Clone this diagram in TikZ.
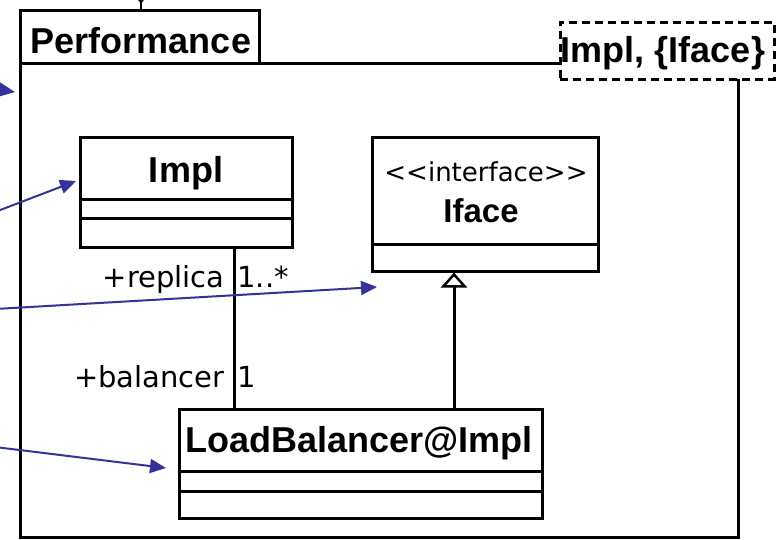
\documentclass[tikz,border=0pt]{standalone}
\usepackage{fontspec}
\setmainfont{DejaVu Sans}[Ligatures=NoCommon]
\newfontfamily\classfont{Liberation Sans}
\usetikzlibrary{arrows.meta,calc}
\definecolor{navy}{RGB}{51,51,153}

\begin{document}
\begin{tikzpicture}[x=1pt,y=-1pt,line width=3pt,
  umlbox/.style={draw,fill=white,inner sep=0pt},
  title/.style={font=\classfont\bfseries\fontsize{36}{40}\selectfont,inner sep=0pt,anchor=base},
  stereo/.style={font=\fontsize{26}{30}\selectfont,inner sep=0pt,anchor=base},
  role/.style={font=\fontsize{29}{32}\selectfont,inner sep=0pt},
  pointer/.style={draw=navy,line width=2pt,-{Triangle[length=16pt,width=14pt,fill=navy]}},
  realize/.style={-{Triangle[length=15pt,width=26pt,fill=white,line width=2.5pt]}}]
\useasboundingbox (0,0) rectangle (780,539);
\clip (0,0) rectangle (780,539);

% package frame with its name tab
\node[umlbox,minimum width=718pt,minimum height=474pt] (pkg) at (379,300) {};
\node[umlbox,minimum width=239pt,minimum height=53pt] (tab) at (139.5,36.5) {};
\node[title] (pkgname) at (141,53) {Performance};

% template parameter box
\node[umlbox,dash pattern=on 8pt off 5pt,minimum width=214pt,minimum height=57pt] (tpl) at (667,50.5) {};
\node[title] (tplname) at (663,62) {Impl, \{Iface\}};

% incoming dependency stub at the top
\coordinate (stub) at (141,0);
\fill (136,-3) -- (146,-3) -- (141,4) -- cycle;
\draw[line width=2pt] (stub) -- (tab.north -| stub);

% class Impl
\node[umlbox,minimum width=212pt,minimum height=110pt] (impl) at (186,192) {};
\draw ($(impl.north west)+(0,64)$) -- ($(impl.north east)+(0,64)$);
\draw ($(impl.north west)+(0,83)$) -- ($(impl.north east)+(0,83)$);
\node[title] (implname) at (186,182) {Impl};

% interface Iface
\node[umlbox,minimum width=226pt,minimum height=134pt] (iface) at (485,204) {};
\draw ($(iface.north west)+(0,109)$) -- ($(iface.north east)+(0,109)$);
\node[stereo] (ifacest) at (486,181) {<{}<interface>{}>};
\node[title,font=\classfont\bfseries\fontsize{33}{36}\selectfont] (ifacename) at (481,222) {Iface};

% class LoadBalancer@Impl
\node[umlbox,minimum width=363pt,minimum height=109pt] (lb) at (360.5,463.5) {};
\draw ($(lb.north west)+(0,64)$) -- ($(lb.north east)+(0,64)$);
\draw ($(lb.north west)+(0,84)$) -- ($(lb.north east)+(0,84)$);
\node[title] (lbname) at (359,452) {LoadBalancer@Impl};

% association between Impl and LoadBalancer@Impl
\coordinate (assoc) at (234,0);
\draw (impl.south -| assoc) -- (lb.north -| assoc);
\node[role,anchor=base east] (rrole) at (226,287) {+replica};
\node[role,anchor=base west] (rmult) at (236,287) {1..*};
\node[role,anchor=base east] (brole) at (226,387) {+balancer};
\node[role,anchor=base west] (bmult) at (236,387) {1};

% realization of Iface by LoadBalancer@Impl
\coordinate (real) at (454,0);
\draw[realize] (lb.north -| real) -- (iface.south -| real);

% callout pointers
\coordinate (c1s) at (-12,88);  \coordinate (c1e) at (15,92);
\coordinate (c2s) at (-5,212);  \coordinate (c2e) at (76,181);
\coordinate (c3s) at (-5,309);  \coordinate (c3e) at (377,287);
\coordinate (c4s) at (-5,447);  \coordinate (c4e) at (166,468);
\draw[pointer] (c1s) -- (c1e);
\draw[pointer] (c2s) -- (c2e);
\draw[pointer] (c3s) -- (c3e);
\draw[pointer] (c4s) -- (c4e);
\end{tikzpicture}
\end{document}
